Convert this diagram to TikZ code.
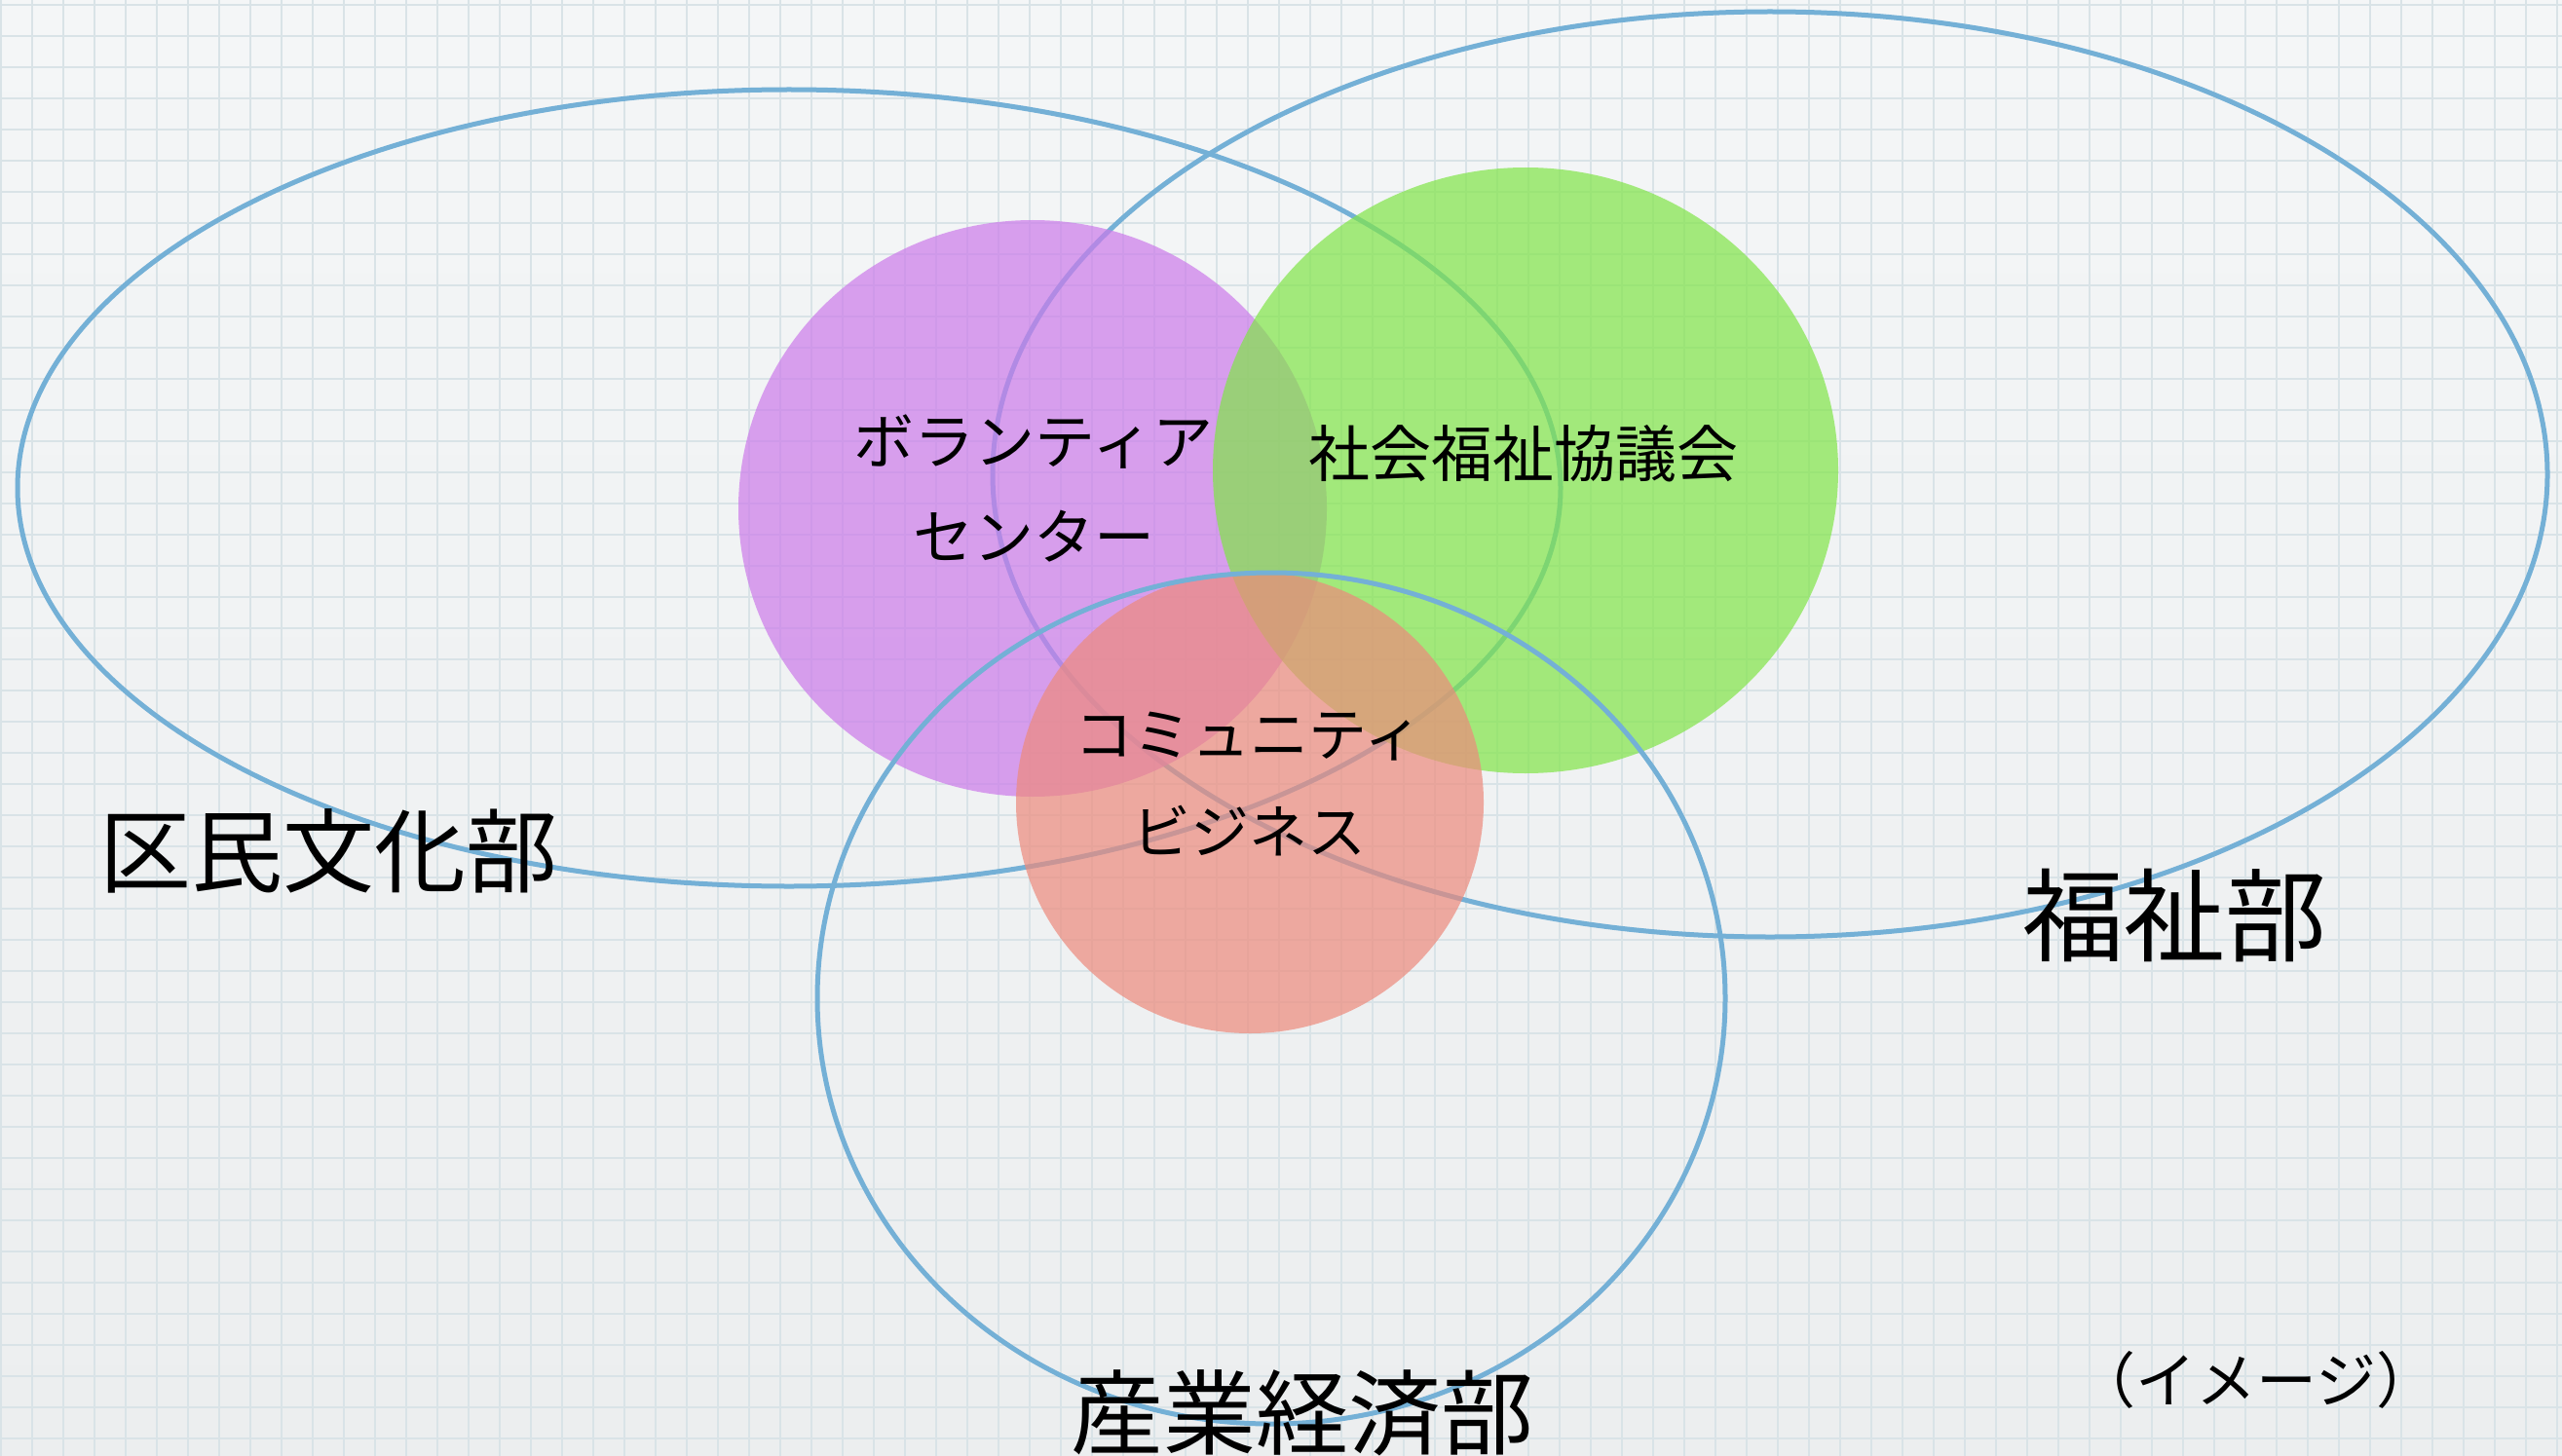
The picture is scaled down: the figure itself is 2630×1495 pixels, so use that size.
\documentclass[tikz,border=0pt]{standalone}
\usepackage{fontspec}
\newfontfamily\jpfont{Noto Sans CJK JP}
\definecolor{bgtop}{RGB}{244,246,247}
\definecolor{bgbot}{RGB}{236,238,239}
\definecolor{gridc}{RGB}{217,227,231}
\definecolor{ringc}{RGB}{116,176,214}
\definecolor{purplec}{RGB}{204,122,234}
\definecolor{greenc}{RGB}{129,229,72}
\definecolor{pinkc}{RGB}{237,138,124}
\begin{document}
\begin{tikzpicture}[x=1pt,y=-1pt,
  gridline/.style={draw=gridc,line width=1.6pt},
  ring/.style={draw=ringc,line width=5pt},
  blob/.style={fill opacity=0.7},
  lbl/.style={inner sep=0pt,align=center,text=black},
  dept/.style={lbl,font={\jpfont\fontsize{#1}{#1}\selectfont}},
  inner/.style={lbl,font={\jpfont\fontsize{62}{98}\selectfont}}]
\useasboundingbox (0,0) rectangle (2630,1495);
\clip (0,0) rectangle (2630,1495);
% background
\shade[top color=bgtop,bottom color=bgbot] (0,0) rectangle (2630,1495);
% grid
\foreach \gx in {1,33,...,2630} {\draw[gridline] (\gx,0) -- (\gx,1495);}
\foreach \gy in {5,37,...,1495} {\draw[gridline] (0,\gy) -- (2630,\gy);}
% department rings (under the coloured discs)
\draw[ring] (810,501) ellipse [x radius=792, y radius=409];
\draw[ring] (1817,487) ellipse [x radius=798, y radius=475];
% coloured discs
\fill[blob,purplec] (1060,522) ellipse [x radius=302, y radius=296];
\fill[blob,greenc] (1566,483) ellipse [x radius=321, y radius=311];
\fill[blob,pinkc] (1283,824) ellipse [x radius=240, y radius=237];
% lower ring
\draw[ring] (1305,1025) ellipse [x radius=466, y radius=437];
% labels
\node[inner] (vol) at (1061,501) {ボランティア\\センター};
\node[lbl,font={\jpfont\fontsize{63}{63}\selectfont}] (shakyo) at (1564,466) {社会福祉協議会};
\node[inner,font={\jpfont\fontsize{60}{100}\selectfont}] (cb) at (1282,805) {コミュニティ\\ビジネス};
\node[dept=94] (kumin) at (337,874) {区民文化部};
\node[dept=104] (fukushi) at (2232,940) {福祉部};
\node[dept=95] (sangyo) at (1337,1451) {産業経済部};
\node[dept=62] (image) at (2316,1417) {（イメージ）};
\end{tikzpicture}
\end{document}
